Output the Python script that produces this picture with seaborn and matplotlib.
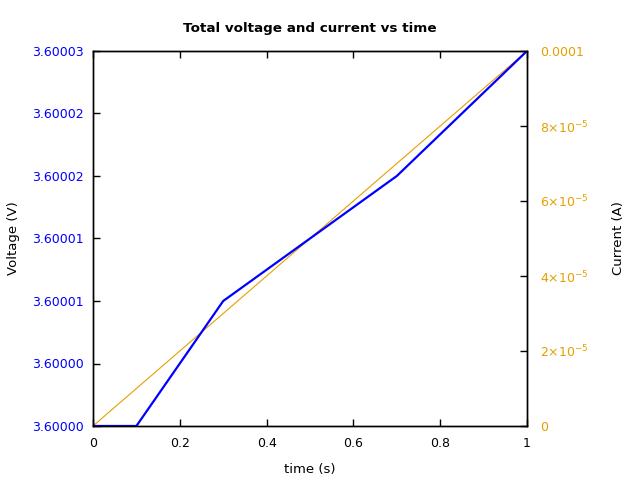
import matplotlib
matplotlib.use("Agg")
import matplotlib.pyplot as plt
import seaborn as sns
import pandas as pd

# Data
time_v = [0.0, 0.1, 0.3, 0.7, 1.0]
voltage = [3.600000, 3.600000, 3.600010, 3.600020, 3.600030]
time_i = [0.0, 1.0]
current = [0.0, 1e-4]

v_ticks = [3.600000, 3.600005, 3.600010, 3.600015, 3.600020, 3.600025, 3.600030]
v_labels = ["3.60000", "3.60000", "3.60001", "3.60001", "3.60002", "3.60002", "3.60003"]
i_ticks = [0, 2e-5, 4e-5, 6e-5, 8e-5, 1e-4]
i_labels = ["0", r"2$\times$10$^{-5}$", r"4$\times$10$^{-5}$", r"6$\times$10$^{-5}$",
            r"8$\times$10$^{-5}$", "0.0001"]
x_ticks = [0, 0.2, 0.4, 0.6, 0.8, 1.0]
x_labels = ["0", "0.2", "0.4", "0.6", "0.8", "1"]

sns.set_style("white")
plt.rcParams['font.family'] = ['DejaVu Sans']
plt.rcParams['mathtext.fontset'] = 'dejavusans'
plt.rcParams['mathtext.default'] = 'regular'
plt.rcParams['text.color'] = 'black'
plt.rcParams['axes.labelcolor'] = 'black'
plt.rcParams['xtick.color'] = 'black'
plt.rcParams['ytick.color'] = 'black'

BLUE = "#0000ff"
ORANGE = "#e69f00"

fig = plt.figure(figsize=(6.4, 4.8), dpi=100)
ax = fig.add_axes([93/640, 54/480, (527-93)/640, (426-51)/480])
ax2 = ax.twinx()

dfv = pd.DataFrame({"t": time_v, "v": voltage})
dfi = pd.DataFrame({"t": time_i, "i": current})

sns.lineplot(data=dfi, x="t", y="i", ax=ax2, color=ORANGE, linewidth=0.8)
sns.lineplot(data=dfv, x="t", y="v", ax=ax, color=BLUE, linewidth=1.6)

ax.set_zorder(ax2.get_zorder() + 1)
ax.patch.set_visible(False)

ax.set_xlim(0, 1)
ax.set_ylim(3.600000, 3.600030)
ax2.set_ylim(0, 1e-4)

ax.set_xticks(x_ticks)
ax.set_xticklabels(x_labels, fontsize=9, color="black")
ax.set_yticks(v_ticks)
ax.set_yticklabels(v_labels, fontsize=9, color=BLUE)
ax2.set_yticks(i_ticks)
ax2.set_yticklabels(i_labels, fontsize=9, color=ORANGE)

ax.tick_params(axis="x", direction="in", length=5, width=1, top=True, bottom=True, pad=8)
ax.tick_params(axis="y", direction="in", length=5, width=1, left=True, right=False, pad=6.5)
for lab in ax.get_yticklabels():
    lab.set_color(BLUE)
ax2.tick_params(axis="y", direction="in", length=5, width=1, right=True, pad=9.4)
for lab in ax2.get_yticklabels():
    lab.set_color(ORANGE)

for sp in list(ax.spines.values()) + list(ax2.spines.values()):
    sp.set_visible(True)
    sp.set_color("black")
    sp.set_linewidth(1.0)

ax.set_xlabel("time (s)", fontsize=9.5, labelpad=9, color="black")
ax.set_ylabel("Voltage (V)", fontsize=9.5, labelpad=9, color="black")
ax2.set_ylabel("Current (A)", fontsize=9.5, labelpad=17, color="black")
ax.set_title("Total voltage and current vs time", fontsize=9.7, fontweight="bold",
             pad=14, color="black")

fig.savefig("out.png", dpi=100)
